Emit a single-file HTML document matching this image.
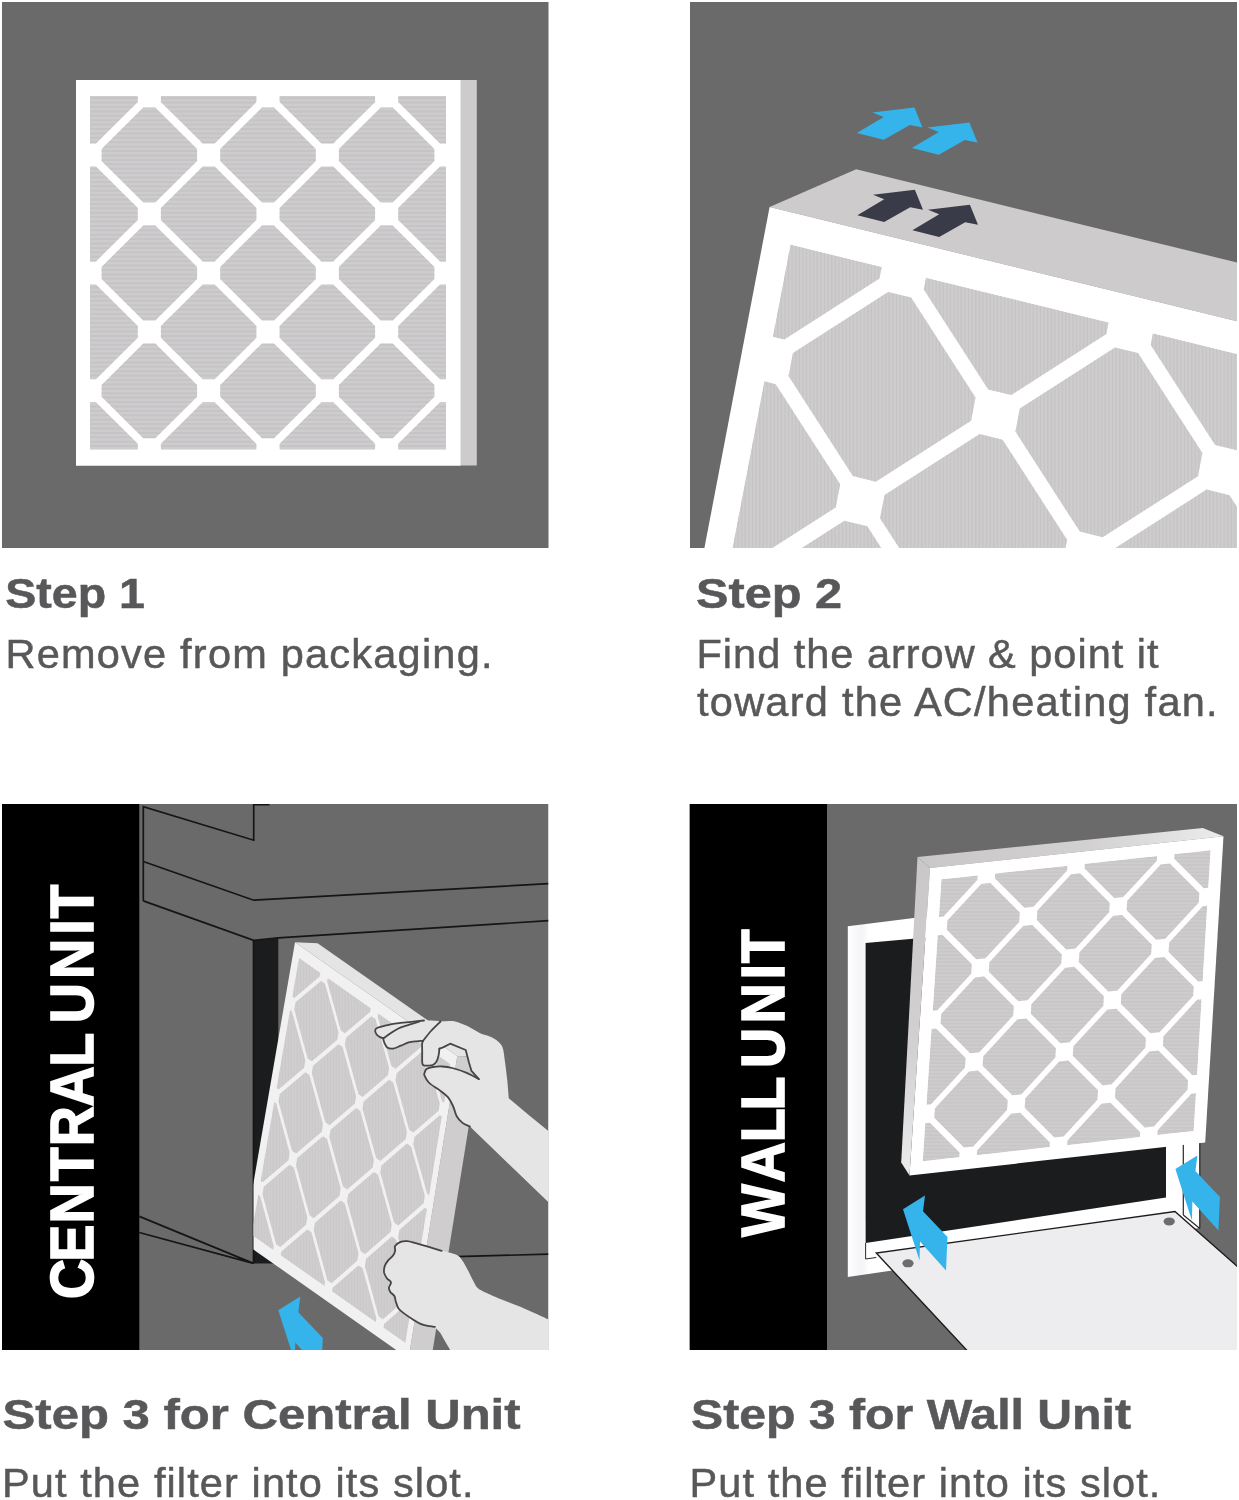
<!DOCTYPE html>
<html lang="en"><head><meta charset="utf-8"><title>Air filter installation steps</title>
<style>
html,body{margin:0;padding:0;background:#fff}
body{width:1239px;height:1500px;overflow:hidden}
svg{display:block;will-change:transform}
text{font-family:"Liberation Sans",sans-serif}
</style></head><body>
<svg width="1239" height="1500" viewBox="0 0 1239 1500">
<defs>
<clipPath id="p2"><rect x="690" y="2" width="547" height="546"/></clipPath>
<clipPath id="p3"><rect x="2" y="804" width="546.5" height="546"/></clipPath>
<clipPath id="p4"><rect x="689.5" y="804" width="547.5" height="546"/></clipPath>
<clipPath id="p3f"><polygon points="253.5,800 560,800 560,1360 253.5,1360"/></clipPath>
<linearGradient id="gfr" x1="0" y1="0" x2="1" y2="0"><stop offset="0" stop-color="#fff"/><stop offset="0.04" stop-color="#f4f4f7"/><stop offset="0.06" stop-color="#fff"/><stop offset="1" stop-color="#fff"/></linearGradient>
<linearGradient id="lside" gradientUnits="userSpaceOnUse" x1="0" y1="857" x2="0" y2="1175"><stop offset="0" stop-color="#c9c7c8"/><stop offset="0.6" stop-color="#d2d0d1"/><stop offset="1" stop-color="#ececec"/></linearGradient>
<linearGradient id="tside" gradientUnits="userSpaceOnUse" x1="917" y1="0" x2="1223" y2="0"><stop offset="0" stop-color="#c9c7c8"/><stop offset="0.55" stop-color="#d2d0d1"/><stop offset="1" stop-color="#ececec"/></linearGradient>
</defs>
<rect x="2" y="2" width="546.5" height="546" fill="#6a6a6a"/>
<rect x="460" y="80" width="16.8" height="385.5" fill="#cdcbcc"/>
<polygon points="76.0,80.0 460.5,80.0 460.5,465.8 76.0,465.8" fill="#ffffff"/>
<clipPath id="f1">
<path d="M96.0 143.5 L137.8 102.0 L137.8 96.0 L90.0 96.0 L90.0 143.5ZM96.0 261.4 L137.8 219.9 L137.8 208.0 L96.0 166.5 L90.0 166.5 L90.0 261.4ZM96.0 379.3 L137.8 337.8 L137.8 325.9 L96.0 284.4 L90.0 284.4 L90.0 379.3ZM137.8 443.8 L96.0 402.3 L90.0 402.3 L90.0 449.8 L137.8 449.8ZM101.6 160.9 L143.3 202.4 L155.3 202.4 L197.1 160.9 L197.1 149.0 L155.3 107.5 L143.3 107.5 L101.6 149.0ZM101.6 278.9 L143.3 320.4 L155.3 320.4 L197.1 278.9 L197.1 266.9 L155.3 225.4 L143.3 225.4 L101.6 266.9ZM101.6 396.8 L143.3 438.3 L155.3 438.3 L197.1 396.8 L197.1 384.9 L155.3 343.4 L143.3 343.4 L101.6 384.9ZM160.9 102.0 L202.7 143.5 L214.7 143.5 L256.4 102.0 L256.4 96.0 L160.9 96.0ZM160.9 219.9 L202.7 261.4 L214.7 261.4 L256.4 219.9 L256.4 208.0 L214.7 166.5 L202.7 166.5 L160.9 208.0ZM160.9 337.8 L202.7 379.3 L214.7 379.3 L256.4 337.8 L256.4 325.9 L214.7 284.4 L202.7 284.4 L160.9 325.9ZM256.4 443.8 L214.7 402.3 L202.7 402.3 L160.9 443.8 L160.9 449.8 L256.4 449.8ZM220.2 160.9 L262.0 202.4 L274.0 202.4 L315.8 160.9 L315.8 149.0 L274.0 107.5 L262.0 107.5 L220.2 149.0ZM220.2 278.9 L262.0 320.4 L274.0 320.4 L315.8 278.9 L315.8 266.9 L274.0 225.4 L262.0 225.4 L220.2 266.9ZM220.2 396.8 L262.0 438.3 L274.0 438.3 L315.8 396.8 L315.8 384.9 L274.0 343.4 L262.0 343.4 L220.2 384.9ZM279.6 102.0 L321.3 143.5 L333.3 143.5 L375.1 102.0 L375.1 96.0 L279.6 96.0ZM279.6 219.9 L321.3 261.4 L333.3 261.4 L375.1 219.9 L375.1 208.0 L333.3 166.5 L321.3 166.5 L279.6 208.0ZM279.6 337.8 L321.3 379.3 L333.3 379.3 L375.1 337.8 L375.1 325.9 L333.3 284.4 L321.3 284.4 L279.6 325.9ZM375.1 443.8 L333.3 402.3 L321.3 402.3 L279.6 443.8 L279.6 449.8 L375.1 449.8ZM338.9 160.9 L380.7 202.4 L392.7 202.4 L434.4 160.9 L434.4 149.0 L392.7 107.5 L380.7 107.5 L338.9 149.0ZM338.9 278.9 L380.7 320.4 L392.7 320.4 L434.4 278.9 L434.4 266.9 L392.7 225.4 L380.7 225.4 L338.9 266.9ZM338.9 396.8 L380.7 438.3 L392.7 438.3 L434.4 396.8 L434.4 384.9 L392.7 343.4 L380.7 343.4 L338.9 384.9ZM398.2 102.0 L440.0 143.5 L446.0 143.5 L446.0 96.0 L398.2 96.0ZM440.0 166.5 L398.2 208.0 L398.2 219.9 L440.0 261.4 L446.0 261.4 L446.0 166.5ZM440.0 284.4 L398.2 325.9 L398.2 337.8 L440.0 379.3 L446.0 379.3 L446.0 284.4ZM440.0 402.3 L398.2 443.8 L398.2 449.8 L446.0 449.8 L446.0 402.3Z"/>
</clipPath>
<g clip-path="url(#f1)">
<polygon points="90.0,96.0 446.0,96.0 446.0,449.8 90.0,449.8" fill="#cecccd"/>
<path d="M90.0 98.2L446.0 98.2M90.0 102.6L446.0 102.6M90.0 107.0L446.0 107.0M90.0 111.4L446.0 111.4M90.0 115.8L446.0 115.8M90.0 120.2L446.0 120.2M90.0 124.6L446.0 124.6M90.0 129.0L446.0 129.0M90.0 133.4L446.0 133.4M90.0 137.8L446.0 137.8M90.0 142.2L446.0 142.2M90.0 146.7L446.0 146.7M90.0 151.1L446.0 151.1M90.0 155.5L446.0 155.5M90.0 159.9L446.0 159.9M90.0 164.3L446.0 164.3M90.0 168.7L446.0 168.7M90.0 173.1L446.0 173.1M90.0 177.5L446.0 177.5M90.0 181.9L446.0 181.9M90.0 186.3L446.0 186.3M90.0 190.7L446.0 190.7M90.0 195.1L446.0 195.1M90.0 199.5L446.0 199.5M90.0 203.9L446.0 203.9M90.0 208.3L446.0 208.3M90.0 212.7L446.0 212.7M90.0 217.1L446.0 217.1M90.0 221.5L446.0 221.5M90.0 225.9L446.0 225.9M90.0 230.3L446.0 230.3M90.0 234.7L446.0 234.7M90.0 239.1L446.0 239.1M90.0 243.5L446.0 243.5M90.0 247.9L446.0 247.9M90.0 252.3L446.0 252.3M90.0 256.7L446.0 256.7M90.0 261.1L446.0 261.1M90.0 265.5L446.0 265.5M90.0 269.9L446.0 269.9M90.0 274.4L446.0 274.4M90.0 278.8L446.0 278.8M90.0 283.2L446.0 283.2M90.0 287.6L446.0 287.6M90.0 292.0L446.0 292.0M90.0 296.4L446.0 296.4M90.0 300.8L446.0 300.8M90.0 305.2L446.0 305.2M90.0 309.6L446.0 309.6M90.0 314.0L446.0 314.0M90.0 318.4L446.0 318.4M90.0 322.8L446.0 322.8M90.0 327.2L446.0 327.2M90.0 331.6L446.0 331.6M90.0 336.0L446.0 336.0M90.0 340.4L446.0 340.4M90.0 344.8L446.0 344.8M90.0 349.2L446.0 349.2M90.0 353.6L446.0 353.6M90.0 358.0L446.0 358.0M90.0 362.4L446.0 362.4M90.0 366.8L446.0 366.8M90.0 371.2L446.0 371.2M90.0 375.6L446.0 375.6M90.0 380.0L446.0 380.0M90.0 384.4L446.0 384.4M90.0 388.8L446.0 388.8M90.0 393.2L446.0 393.2M90.0 397.6L446.0 397.6M90.0 402.1L446.0 402.1M90.0 406.5L446.0 406.5M90.0 410.9L446.0 410.9M90.0 415.3L446.0 415.3M90.0 419.7L446.0 419.7M90.0 424.1L446.0 424.1M90.0 428.5L446.0 428.5M90.0 432.9L446.0 432.9M90.0 437.3L446.0 437.3M90.0 441.7L446.0 441.7M90.0 446.1L446.0 446.1" stroke="#bcbabb" stroke-opacity="0.40" stroke-width="2.00" fill="none"/>
</g>
<g clip-path="url(#p2)">
<rect x="690" y="2" width="547" height="546" fill="#6a6a6a"/>
<polygon points="769.6,207.0 856.2,169.3 1591.4,349.2 1504.8,386.9" fill="#cdcbcc"/>
<polygon points="769.6,207.0 1504.8,386.9 1361.6,1135.5 626.5,955.6" fill="#ffffff"/>
<clipPath id="f2">
<path d="M784.3 339.5 L879.5 278.5 L881.8 267.0 L790.4 244.6 L772.8 336.7ZM740.5 568.4 L835.8 507.4 L840.2 484.2 L775.7 384.2 L764.3 381.3 L729.1 565.6ZM696.8 797.2 L792.0 736.2 L796.5 713.1 L732.0 613.0 L720.5 610.2 L685.3 794.4ZM752.7 941.9 L688.2 841.8 L676.8 839.0 L659.2 931.1 L750.5 953.5ZM788.5 376.0 L852.9 476.1 L875.8 481.7 L971.1 420.7 L975.5 397.6 L911.1 297.5 L888.1 291.9 L792.9 352.9ZM744.7 604.8 L809.2 704.9 L832.1 710.5 L927.4 649.5 L931.8 626.4 L867.3 526.3 L844.4 520.7 L749.1 581.7ZM701.0 833.7 L765.4 933.8 L788.3 939.4 L883.6 878.4 L888.0 855.3 L823.6 755.2 L800.6 749.6 L705.4 810.6ZM923.8 289.4 L988.2 389.4 L1011.2 395.1 L1106.4 334.0 L1108.6 322.5 L926.0 277.8ZM880.0 518.2 L944.5 618.3 L967.4 623.9 L1062.7 562.9 L1067.1 539.8 L1002.6 439.7 L979.7 434.1 L884.5 495.1ZM836.3 747.0 L900.7 847.1 L923.7 852.7 L1018.9 791.7 L1023.3 768.6 L958.9 668.5 L936.0 662.9 L840.7 723.9ZM979.6 997.4 L915.1 897.3 L892.2 891.7 L796.9 952.7 L794.7 964.3 L977.4 1009.0ZM1015.4 431.5 L1079.8 531.6 L1102.7 537.2 L1198.0 476.2 L1202.4 453.1 L1138.0 353.0 L1115.0 347.4 L1019.8 408.4ZM971.6 660.4 L1036.1 760.5 L1059.0 766.1 L1154.2 705.1 L1158.7 681.9 L1094.2 581.8 L1071.3 576.2 L976.0 637.2ZM927.8 889.2 L992.3 989.3 L1015.2 994.9 L1110.5 933.9 L1114.9 910.8 L1050.4 810.7 L1027.5 805.1 L932.3 866.1ZM1150.7 344.9 L1215.1 445.0 L1238.1 450.6 L1333.3 389.6 L1335.5 378.0 L1152.9 333.3ZM1106.9 573.7 L1171.4 673.8 L1194.3 679.4 L1289.6 618.4 L1294.0 595.3 L1229.5 495.2 L1206.6 489.6 L1111.3 550.6ZM1063.2 802.5 L1127.6 902.6 L1150.6 908.2 L1245.8 847.2 L1250.2 824.1 L1185.8 724.0 L1162.9 718.4 L1067.6 779.4ZM1206.5 1053.0 L1142.0 952.9 L1119.1 947.3 L1023.8 1008.3 L1021.6 1019.8 L1204.3 1064.5ZM1242.2 487.0 L1306.7 587.1 L1329.6 592.7 L1424.9 531.7 L1429.3 508.6 L1364.8 408.5 L1341.9 402.9 L1246.7 463.9ZM1198.5 715.9 L1263.0 816.0 L1285.9 821.6 L1381.1 760.6 L1385.6 737.5 L1321.1 637.4 L1298.2 631.8 L1202.9 692.8ZM1154.7 944.7 L1219.2 1044.8 L1242.1 1050.4 L1337.4 989.4 L1341.8 966.3 L1277.3 866.2 L1254.4 860.6 L1159.2 921.6ZM1377.6 400.4 L1442.0 500.5 L1453.5 503.3 L1471.1 411.2 L1379.8 388.8ZM1433.5 545.1 L1338.2 606.1 L1333.8 629.2 L1398.3 729.3 L1409.7 732.1 L1445.0 547.9ZM1389.7 773.9 L1294.5 834.9 L1290.1 858.1 L1354.5 958.1 L1366.0 961.0 L1401.2 776.7ZM1346.0 1002.8 L1250.7 1063.8 L1248.5 1075.3 L1339.8 1097.7 L1357.5 1005.6Z"/>
</clipPath>
<g clip-path="url(#f2)">
<polygon points="790.4,244.6 1471.1,411.2 1339.8,1097.7 659.2,931.1" fill="#cecccd"/>
<path d="M626.5 207.0L626.5 1135.5M630.1 207.0L630.1 1135.5M633.7 207.0L633.7 1135.5M637.3 207.0L637.3 1135.5M640.9 207.0L640.9 1135.5M644.5 207.0L644.5 1135.5M648.1 207.0L648.1 1135.5M651.7 207.0L651.7 1135.5M655.3 207.0L655.3 1135.5M658.9 207.0L658.9 1135.5M662.5 207.0L662.5 1135.5M666.1 207.0L666.1 1135.5M669.7 207.0L669.7 1135.5M673.3 207.0L673.3 1135.5M676.9 207.0L676.9 1135.5M680.5 207.0L680.5 1135.5M684.1 207.0L684.1 1135.5M687.7 207.0L687.7 1135.5M691.3 207.0L691.3 1135.5M694.9 207.0L694.9 1135.5M698.5 207.0L698.5 1135.5M702.1 207.0L702.1 1135.5M705.7 207.0L705.7 1135.5M709.3 207.0L709.3 1135.5M712.9 207.0L712.9 1135.5M716.5 207.0L716.5 1135.5M720.1 207.0L720.1 1135.5M723.7 207.0L723.7 1135.5M727.3 207.0L727.3 1135.5M730.9 207.0L730.9 1135.5M734.5 207.0L734.5 1135.5M738.1 207.0L738.1 1135.5M741.7 207.0L741.7 1135.5M745.3 207.0L745.3 1135.5M748.9 207.0L748.9 1135.5M752.5 207.0L752.5 1135.5M756.1 207.0L756.1 1135.5M759.7 207.0L759.7 1135.5M763.3 207.0L763.3 1135.5M766.9 207.0L766.9 1135.5M770.5 207.0L770.5 1135.5M774.1 207.0L774.1 1135.5M777.7 207.0L777.7 1135.5M781.3 207.0L781.3 1135.5M784.9 207.0L784.9 1135.5M788.5 207.0L788.5 1135.5M792.1 207.0L792.1 1135.5M795.7 207.0L795.7 1135.5M799.3 207.0L799.3 1135.5M802.9 207.0L802.9 1135.5M806.5 207.0L806.5 1135.5M810.1 207.0L810.1 1135.5M813.7 207.0L813.7 1135.5M817.3 207.0L817.3 1135.5M820.9 207.0L820.9 1135.5M824.5 207.0L824.5 1135.5M828.1 207.0L828.1 1135.5M831.7 207.0L831.7 1135.5M835.3 207.0L835.3 1135.5M838.9 207.0L838.9 1135.5M842.5 207.0L842.5 1135.5M846.1 207.0L846.1 1135.5M849.7 207.0L849.7 1135.5M853.3 207.0L853.3 1135.5M856.9 207.0L856.9 1135.5M860.5 207.0L860.5 1135.5M864.1 207.0L864.1 1135.5M867.7 207.0L867.7 1135.5M871.3 207.0L871.3 1135.5M874.9 207.0L874.9 1135.5M878.5 207.0L878.5 1135.5M882.1 207.0L882.1 1135.5M885.7 207.0L885.7 1135.5M889.3 207.0L889.3 1135.5M892.9 207.0L892.9 1135.5M896.5 207.0L896.5 1135.5M900.1 207.0L900.1 1135.5M903.7 207.0L903.7 1135.5M907.3 207.0L907.3 1135.5M910.9 207.0L910.9 1135.5M914.5 207.0L914.5 1135.5M918.1 207.0L918.1 1135.5M921.7 207.0L921.7 1135.5M925.3 207.0L925.3 1135.5M928.9 207.0L928.9 1135.5M932.5 207.0L932.5 1135.5M936.1 207.0L936.1 1135.5M939.7 207.0L939.7 1135.5M943.3 207.0L943.3 1135.5M946.9 207.0L946.9 1135.5M950.5 207.0L950.5 1135.5M954.1 207.0L954.1 1135.5M957.7 207.0L957.7 1135.5M961.3 207.0L961.3 1135.5M964.9 207.0L964.9 1135.5M968.5 207.0L968.5 1135.5M972.1 207.0L972.1 1135.5M975.7 207.0L975.7 1135.5M979.3 207.0L979.3 1135.5M982.9 207.0L982.9 1135.5M986.5 207.0L986.5 1135.5M990.1 207.0L990.1 1135.5M993.7 207.0L993.7 1135.5M997.3 207.0L997.3 1135.5M1000.9 207.0L1000.9 1135.5M1004.5 207.0L1004.5 1135.5M1008.1 207.0L1008.1 1135.5M1011.7 207.0L1011.7 1135.5M1015.3 207.0L1015.3 1135.5M1018.9 207.0L1018.9 1135.5M1022.5 207.0L1022.5 1135.5M1026.1 207.0L1026.1 1135.5M1029.7 207.0L1029.7 1135.5M1033.3 207.0L1033.3 1135.5M1036.9 207.0L1036.9 1135.5M1040.5 207.0L1040.5 1135.5M1044.1 207.0L1044.1 1135.5M1047.7 207.0L1047.7 1135.5M1051.3 207.0L1051.3 1135.5M1054.9 207.0L1054.9 1135.5M1058.5 207.0L1058.5 1135.5M1062.1 207.0L1062.1 1135.5M1065.7 207.0L1065.7 1135.5M1069.3 207.0L1069.3 1135.5M1072.9 207.0L1072.9 1135.5M1076.5 207.0L1076.5 1135.5M1080.1 207.0L1080.1 1135.5M1083.7 207.0L1083.7 1135.5M1087.3 207.0L1087.3 1135.5M1090.9 207.0L1090.9 1135.5M1094.5 207.0L1094.5 1135.5M1098.1 207.0L1098.1 1135.5M1101.7 207.0L1101.7 1135.5M1105.3 207.0L1105.3 1135.5M1108.9 207.0L1108.9 1135.5M1112.5 207.0L1112.5 1135.5M1116.1 207.0L1116.1 1135.5M1119.7 207.0L1119.7 1135.5M1123.3 207.0L1123.3 1135.5M1126.9 207.0L1126.9 1135.5M1130.5 207.0L1130.5 1135.5M1134.1 207.0L1134.1 1135.5M1137.7 207.0L1137.7 1135.5M1141.3 207.0L1141.3 1135.5M1144.9 207.0L1144.9 1135.5M1148.5 207.0L1148.5 1135.5M1152.1 207.0L1152.1 1135.5M1155.7 207.0L1155.7 1135.5M1159.3 207.0L1159.3 1135.5M1162.9 207.0L1162.9 1135.5M1166.5 207.0L1166.5 1135.5M1170.1 207.0L1170.1 1135.5M1173.7 207.0L1173.7 1135.5M1177.3 207.0L1177.3 1135.5M1180.9 207.0L1180.9 1135.5M1184.5 207.0L1184.5 1135.5M1188.1 207.0L1188.1 1135.5M1191.7 207.0L1191.7 1135.5M1195.3 207.0L1195.3 1135.5M1198.9 207.0L1198.9 1135.5M1202.5 207.0L1202.5 1135.5M1206.1 207.0L1206.1 1135.5M1209.7 207.0L1209.7 1135.5M1213.3 207.0L1213.3 1135.5M1216.9 207.0L1216.9 1135.5M1220.5 207.0L1220.5 1135.5M1224.1 207.0L1224.1 1135.5M1227.7 207.0L1227.7 1135.5M1231.3 207.0L1231.3 1135.5M1234.9 207.0L1234.9 1135.5M1238.5 207.0L1238.5 1135.5M1242.1 207.0L1242.1 1135.5M1245.7 207.0L1245.7 1135.5M1249.3 207.0L1249.3 1135.5M1252.9 207.0L1252.9 1135.5M1256.5 207.0L1256.5 1135.5M1260.1 207.0L1260.1 1135.5M1263.7 207.0L1263.7 1135.5M1267.3 207.0L1267.3 1135.5M1270.9 207.0L1270.9 1135.5M1274.5 207.0L1274.5 1135.5M1278.1 207.0L1278.1 1135.5M1281.7 207.0L1281.7 1135.5M1285.3 207.0L1285.3 1135.5M1288.9 207.0L1288.9 1135.5M1292.5 207.0L1292.5 1135.5M1296.1 207.0L1296.1 1135.5M1299.7 207.0L1299.7 1135.5M1303.3 207.0L1303.3 1135.5M1306.9 207.0L1306.9 1135.5M1310.5 207.0L1310.5 1135.5M1314.1 207.0L1314.1 1135.5M1317.7 207.0L1317.7 1135.5M1321.3 207.0L1321.3 1135.5M1324.9 207.0L1324.9 1135.5M1328.5 207.0L1328.5 1135.5M1332.1 207.0L1332.1 1135.5M1335.7 207.0L1335.7 1135.5M1339.3 207.0L1339.3 1135.5M1342.9 207.0L1342.9 1135.5M1346.5 207.0L1346.5 1135.5M1350.1 207.0L1350.1 1135.5M1353.7 207.0L1353.7 1135.5M1357.3 207.0L1357.3 1135.5M1360.9 207.0L1360.9 1135.5M1364.5 207.0L1364.5 1135.5M1368.1 207.0L1368.1 1135.5M1371.7 207.0L1371.7 1135.5M1375.3 207.0L1375.3 1135.5M1378.9 207.0L1378.9 1135.5M1382.5 207.0L1382.5 1135.5M1386.1 207.0L1386.1 1135.5M1389.7 207.0L1389.7 1135.5M1393.3 207.0L1393.3 1135.5M1396.9 207.0L1396.9 1135.5M1400.5 207.0L1400.5 1135.5M1404.1 207.0L1404.1 1135.5M1407.7 207.0L1407.7 1135.5M1411.3 207.0L1411.3 1135.5M1414.9 207.0L1414.9 1135.5M1418.5 207.0L1418.5 1135.5M1422.1 207.0L1422.1 1135.5M1425.7 207.0L1425.7 1135.5M1429.3 207.0L1429.3 1135.5M1432.9 207.0L1432.9 1135.5M1436.5 207.0L1436.5 1135.5M1440.1 207.0L1440.1 1135.5M1443.7 207.0L1443.7 1135.5M1447.3 207.0L1447.3 1135.5M1450.9 207.0L1450.9 1135.5M1454.5 207.0L1454.5 1135.5M1458.1 207.0L1458.1 1135.5M1461.7 207.0L1461.7 1135.5M1465.3 207.0L1465.3 1135.5M1468.9 207.0L1468.9 1135.5M1472.5 207.0L1472.5 1135.5M1476.1 207.0L1476.1 1135.5M1479.7 207.0L1479.7 1135.5M1483.3 207.0L1483.3 1135.5M1486.9 207.0L1486.9 1135.5M1490.5 207.0L1490.5 1135.5M1494.1 207.0L1494.1 1135.5M1497.7 207.0L1497.7 1135.5M1501.3 207.0L1501.3 1135.5" stroke="#bcbabb" stroke-opacity="0.45" stroke-width="1.20" fill="none"/>
</g>
<polygon points="856.9,132.9 883.8,139.8 909.8,125.0 922.5,127.5 914.4,107.5 872.5,112.5 883.8,116.9" fill="#35b4ec"/>
<polygon points="911.9,147.9 938.8,154.8 964.8,140.0 977.5,142.5 969.4,122.5 927.5,127.5 938.8,131.9" fill="#35b4ec"/>
<polygon points="857.4,215.2 884.2,222.1 910.2,207.3 923.0,209.8 914.9,189.8 873.0,194.8 884.2,199.2" fill="#3a3b48"/>
<polygon points="912.4,230.2 939.2,237.1 965.2,222.3 978.0,224.8 969.9,204.8 928.0,209.8 939.2,214.2" fill="#3a3b48"/>
</g>
<g>
<text x="5.3" y="608.2" font-size="42.5" font-weight="bold" fill="#58585a" textLength="139.7" lengthAdjust="spacingAndGlyphs" stroke="#58585a" stroke-width="0.50">Step 1</text>
<text x="5.5" y="668.0" font-size="41.5" font-weight="normal" fill="#58585a" textLength="487.0" lengthAdjust="spacing" stroke="#58585a" stroke-width="0.50">Remove from packaging.</text>
<text x="696.1" y="607.6" font-size="42.5" font-weight="bold" fill="#58585a" textLength="146.0" lengthAdjust="spacingAndGlyphs" stroke="#58585a" stroke-width="0.50">Step 2</text>
<text x="696.5" y="668.2" font-size="41.5" font-weight="normal" fill="#58585a" textLength="462.0" lengthAdjust="spacing" stroke="#58585a" stroke-width="0.50">Find the arrow &amp; point it</text>
<text x="697.0" y="715.6" font-size="41.5" font-weight="normal" fill="#58585a" textLength="520.6" lengthAdjust="spacing" stroke="#58585a" stroke-width="0.50">toward the AC/heating fan.</text>
<text x="2.6" y="1428.8" font-size="42.5" font-weight="bold" fill="#58585a" textLength="518.0" lengthAdjust="spacingAndGlyphs" stroke="#58585a" stroke-width="0.50">Step 3 for Central Unit</text>
<text x="2.0" y="1496.5" font-size="41.5" font-weight="normal" fill="#58585a" textLength="471.5" lengthAdjust="spacing" stroke="#58585a" stroke-width="0.50">Put the filter into its slot.</text>
<text x="691.0" y="1428.8" font-size="42.5" font-weight="bold" fill="#58585a" textLength="440.0" lengthAdjust="spacingAndGlyphs" stroke="#58585a" stroke-width="0.50">Step 3 for Wall Unit</text>
<text x="689.6" y="1496.5" font-size="41.5" font-weight="normal" fill="#58585a" textLength="470.7" lengthAdjust="spacing" stroke="#58585a" stroke-width="0.50">Put the filter into its slot.</text>
</g>
<g clip-path="url(#p3)">
<rect x="2" y="804" width="546.5" height="546" fill="#6a6a6a"/>
<rect x="2" y="804" width="137.3" height="546" fill="#000"/>
<polygon points="253.5,940.3 278.3,937.8 278.3,1263.4 253.5,1263.4" fill="#1b1c1e"/>
<path d="M143.3 900.9 L143.3 806.6 L253.7 840.2 L253.7 804.0" fill="none" stroke="#151515" stroke-width="1.7" stroke-linejoin="miter"/>
<path d="M143.3 861.5 L253.7 900.2 L548.5 883.7" fill="none" stroke="#151515" stroke-width="1.7" stroke-linejoin="miter"/>
<path d="M143.3 900.9 L253.7 940.3 L278.3 937.8 L548.5 920.7" fill="none" stroke="#151515" stroke-width="1.7" stroke-linejoin="miter"/>
<path d="M253.5 940.3 L253.5 1263.4" fill="none" stroke="#151515" stroke-width="1.7" stroke-linejoin="miter"/>
<path d="M139.3 1216.4 L253.4 1263.4 L139.3 1232.5" fill="none" stroke="#151515" stroke-width="1.7" stroke-linejoin="miter"/>
<path d="M430.0 1257.3 L548.5 1254.2" fill="none" stroke="#151515" stroke-width="1.7" stroke-linejoin="miter"/>
<path d="M253.7 804.6 L269.5 804.6" fill="none" stroke="#151515" stroke-width="1.7" stroke-linejoin="miter"/>
<g clip-path="url(#p3f)">
<polygon points="295.0,942.2 317.6,943.2 479.9,1056.9 457.3,1055.9" fill="#e4e4e4"/>
<polygon points="457.3,1055.9 479.9,1056.9 431.2,1359.7 408.6,1358.7" fill="#cfcdce"/>
<polygon points="295.0,942.2 457.3,1055.9 408.6,1358.7 243.2,1242.3" fill="#f1f1f1"/>
<clipPath id="f3">
<path d="M294.3 997.9 L319.7 976.5 L320.4 972.8 L298.9 957.8 L292.3 996.5ZM278.5 1089.5 L304.1 1067.8 L305.4 1060.5 L291.9 1011.5 L289.9 1010.1 L276.5 1088.1ZM262.6 1182.2 L288.4 1160.2 L289.6 1152.8 L276.1 1103.3 L274.1 1101.9 L260.5 1180.8ZM273.7 1246.2 L260.2 1196.3 L258.1 1194.8 L251.3 1234.6 L273.1 1250.0ZM294.3 1009.6 L307.7 1058.5 L311.8 1061.3 L337.3 1039.7 L338.5 1032.4 L325.0 983.7 L321.0 980.9 L295.5 1002.3ZM278.5 1101.4 L292.0 1150.8 L296.1 1153.6 L321.7 1131.7 L323.0 1124.3 L309.4 1075.1 L305.4 1072.3 L279.8 1094.0ZM262.5 1194.2 L276.1 1244.2 L280.2 1247.1 L306.0 1224.8 L307.3 1217.3 L293.7 1167.6 L289.6 1164.7 L263.8 1186.8ZM327.3 981.8 L340.8 1030.5 L344.8 1033.3 L370.2 1011.8 L370.8 1008.2 L327.9 978.1ZM311.8 1073.1 L325.3 1122.3 L329.4 1125.2 L354.9 1103.4 L356.1 1096.0 L342.5 1047.0 L338.5 1044.2 L313.0 1065.8ZM296.0 1165.6 L309.6 1215.3 L313.7 1218.2 L339.4 1196.1 L340.7 1188.6 L327.0 1139.1 L323.0 1136.2 L297.3 1158.1ZM325.0 1282.3 L311.4 1232.2 L307.3 1229.4 L281.4 1251.6 L280.8 1255.4 L324.4 1286.1ZM344.9 1045.1 L358.4 1094.1 L362.5 1096.9 L387.9 1075.2 L389.1 1067.9 L375.5 1019.1 L371.4 1016.2 L346.1 1037.7ZM329.4 1137.1 L343.0 1186.6 L347.1 1189.5 L372.7 1167.5 L373.9 1160.1 L360.2 1110.7 L356.1 1107.9 L330.6 1129.7ZM313.7 1230.2 L327.4 1280.3 L331.5 1283.2 L357.2 1260.8 L358.5 1253.3 L344.8 1203.5 L340.7 1200.6 L315.0 1222.7ZM377.8 1017.1 L391.4 1065.9 L395.5 1068.8 L420.7 1047.2 L421.3 1043.6 L378.4 1013.5ZM362.5 1108.7 L376.2 1158.1 L380.3 1160.9 L405.7 1139.0 L406.9 1131.7 L393.2 1082.5 L389.1 1079.7 L363.7 1101.4ZM347.1 1201.5 L360.8 1251.3 L364.9 1254.2 L390.5 1232.0 L391.8 1224.5 L378.0 1174.8 L373.9 1172.0 L348.3 1194.0ZM376.4 1318.5 L362.6 1268.3 L358.5 1265.4 L332.7 1287.7 L332.1 1291.5 L375.8 1322.3ZM395.5 1080.6 L409.2 1129.7 L413.3 1132.5 L438.6 1110.8 L439.8 1103.4 L426.0 1054.5 L422.0 1051.6 L396.7 1073.2ZM380.3 1172.8 L394.1 1222.5 L398.2 1225.4 L423.6 1203.3 L424.8 1195.8 L411.0 1146.4 L407.0 1143.5 L381.5 1165.4ZM364.9 1266.2 L378.7 1316.4 L382.9 1319.3 L408.5 1296.9 L409.7 1289.4 L395.9 1239.4 L391.8 1236.5 L366.2 1258.7ZM428.3 1052.5 L442.1 1101.4 L444.1 1102.8 L450.4 1063.9 L428.9 1048.9ZM439.8 1115.2 L414.5 1137.0 L413.3 1144.4 L427.2 1193.8 L429.2 1195.3 L441.9 1116.6ZM424.9 1207.8 L399.4 1229.9 L398.2 1237.4 L412.1 1287.3 L414.1 1288.8 L426.9 1209.2ZM409.8 1301.5 L384.1 1323.9 L383.5 1327.7 L405.4 1343.1 L411.8 1302.9Z"/>
</clipPath>
<g clip-path="url(#f3)">
<polygon points="298.9,957.8 450.4,1063.9 405.4,1343.1 251.3,1234.6" fill="#d0cecf"/>
<path d="M243.2 942.2L243.2 1358.7M246.2 942.2L246.2 1358.7M249.2 942.2L249.2 1358.7M252.2 942.2L252.2 1358.7M255.2 942.2L255.2 1358.7M258.2 942.2L258.2 1358.7M261.2 942.2L261.2 1358.7M264.2 942.2L264.2 1358.7M267.2 942.2L267.2 1358.7M270.2 942.2L270.2 1358.7M273.2 942.2L273.2 1358.7M276.2 942.2L276.2 1358.7M279.2 942.2L279.2 1358.7M282.2 942.2L282.2 1358.7M285.2 942.2L285.2 1358.7M288.2 942.2L288.2 1358.7M291.2 942.2L291.2 1358.7M294.2 942.2L294.2 1358.7M297.2 942.2L297.2 1358.7M300.2 942.2L300.2 1358.7M303.2 942.2L303.2 1358.7M306.2 942.2L306.2 1358.7M309.2 942.2L309.2 1358.7M312.2 942.2L312.2 1358.7M315.2 942.2L315.2 1358.7M318.2 942.2L318.2 1358.7M321.2 942.2L321.2 1358.7M324.2 942.2L324.2 1358.7M327.2 942.2L327.2 1358.7M330.2 942.2L330.2 1358.7M333.2 942.2L333.2 1358.7M336.2 942.2L336.2 1358.7M339.2 942.2L339.2 1358.7M342.2 942.2L342.2 1358.7M345.2 942.2L345.2 1358.7M348.2 942.2L348.2 1358.7M351.2 942.2L351.2 1358.7M354.2 942.2L354.2 1358.7M357.2 942.2L357.2 1358.7M360.2 942.2L360.2 1358.7M363.2 942.2L363.2 1358.7M366.2 942.2L366.2 1358.7M369.2 942.2L369.2 1358.7M372.2 942.2L372.2 1358.7M375.2 942.2L375.2 1358.7M378.2 942.2L378.2 1358.7M381.2 942.2L381.2 1358.7M384.2 942.2L384.2 1358.7M387.2 942.2L387.2 1358.7M390.2 942.2L390.2 1358.7M393.2 942.2L393.2 1358.7M396.2 942.2L396.2 1358.7M399.2 942.2L399.2 1358.7M402.2 942.2L402.2 1358.7M405.2 942.2L405.2 1358.7M408.2 942.2L408.2 1358.7M411.2 942.2L411.2 1358.7M414.2 942.2L414.2 1358.7M417.2 942.2L417.2 1358.7M420.2 942.2L420.2 1358.7M423.2 942.2L423.2 1358.7M426.2 942.2L426.2 1358.7M429.2 942.2L429.2 1358.7M432.2 942.2L432.2 1358.7M435.2 942.2L435.2 1358.7M438.2 942.2L438.2 1358.7M441.2 942.2L441.2 1358.7M444.2 942.2L444.2 1358.7M447.2 942.2L447.2 1358.7M450.2 942.2L450.2 1358.7M453.2 942.2L453.2 1358.7M456.2 942.2L456.2 1358.7" stroke="#bfbdbe" stroke-opacity="0.35" stroke-width="1.00" fill="none"/>
</g>
</g>
<polygon points="300.3,1296.6 278.3,1310.2 294.8,1361.6 295.3,1342.6 321.3,1371.6 322.8,1338.0 298.3,1312.2" fill="#35b4ec"/>
<path d="M383.0 1038.0C382.6 1037.9 381.6 1038.0 380.5 1037.4C379.4 1036.8 377.5 1035.7 376.6 1034.5C375.7 1033.3 375.0 1031.3 375.2 1030.2C375.4 1029.1 376.1 1028.5 377.6 1027.8C379.1 1027.1 381.2 1026.5 384.4 1025.8C387.6 1025.1 392.5 1024.0 397.0 1023.4C401.5 1022.8 407.0 1022.4 411.5 1021.9C416.0 1021.4 421.9 1020.7 424.0 1020.5C425.3 1020.5 429.3 1020.5 432.0 1020.6C434.7 1020.7 437.7 1021.2 440.0 1021.3C442.3 1021.4 443.5 1021.2 446.0 1021.2C448.5 1021.2 451.5 1020.7 455.1 1021.5C458.7 1022.3 463.3 1024.2 467.4 1026.1C471.5 1028.0 475.8 1031.2 479.6 1033.0C483.4 1034.8 487.3 1035.4 490.4 1036.8C493.5 1038.2 496.0 1039.6 498.0 1041.4C500.0 1043.2 501.5 1044.2 502.6 1047.5C503.8 1050.8 504.1 1055.9 504.9 1061.3C505.7 1066.7 506.5 1073.6 507.2 1079.8C507.9 1086.0 508.5 1095.1 508.8 1098.2L528.7 1115.0L550.0 1132.4L550.0 1203.8L469.9 1126.5C468.7 1125.9 464.7 1124.6 462.5 1122.9C460.3 1121.2 458.3 1119.1 456.7 1116.3C455.1 1113.5 454.5 1109.2 453.0 1106.0C451.5 1102.8 450.2 1099.9 447.9 1097.2C445.6 1094.5 442.3 1092.4 439.1 1089.9C435.9 1087.5 431.2 1085.0 428.8 1082.5C426.4 1080.0 425.1 1076.8 424.4 1075.2C423.7 1073.6 424.2 1073.8 424.6 1072.8C425.0 1071.8 426.2 1069.6 426.5 1069.0L424.1 1065.5C423.8 1065.1 422.6 1065.2 422.3 1063.1C422.0 1061.0 422.2 1056.2 422.2 1053.0C422.2 1049.8 422.0 1045.7 422.1 1043.7C422.2 1041.7 422.9 1041.3 423.1 1040.8C421.9 1040.9 418.7 1041.0 416.3 1041.3C413.9 1041.5 411.2 1041.6 408.6 1042.3C406.0 1043.0 403.4 1044.7 400.8 1045.7C398.2 1046.8 395.4 1048.3 393.1 1048.6C390.9 1048.9 388.8 1048.6 387.3 1047.6C385.9 1046.6 385.1 1044.4 384.4 1042.8C383.7 1041.2 383.2 1038.8 383.0 1038.0Z M439.4 1048.6 L442.5 1047.6 L450.2 1043.7 L465.7 1050.0 L469.1 1063.1 L471.5 1070.9 L478.8 1079.1L466.7 1072.8L452.2 1068.0L442.5 1066.5L436.5 1066.3Z" fill="#e5e5e5" fill-rule="evenodd"/>
<path d="M424.0 1020.5C421.9 1020.7 416.0 1021.4 411.5 1021.9C407.0 1022.4 401.5 1022.8 397.0 1023.4C392.5 1024.0 387.6 1025.1 384.4 1025.8C381.2 1026.5 379.1 1027.1 377.6 1027.8C376.1 1028.5 375.4 1029.1 375.2 1030.2C375.0 1031.3 375.7 1033.3 376.6 1034.5C377.5 1035.7 379.4 1036.8 380.5 1037.4C381.6 1038.0 382.6 1037.9 383.0 1038.0" fill="none" stroke="#454545" stroke-width="1.8" stroke-linecap="round" stroke-linejoin="round"/>
<path d="M383.4 1038.4C384.5 1037.6 387.8 1035.2 390.2 1033.6C392.6 1032.0 394.8 1030.2 397.9 1028.7C401.0 1027.2 405.1 1026.1 408.6 1024.9C412.2 1023.7 417.4 1022.2 419.2 1021.7" fill="none" stroke="#454545" stroke-width="1.8" stroke-linecap="round" stroke-linejoin="round"/>
<path d="M383.0 1038.0C383.2 1038.8 383.7 1041.2 384.4 1042.8C385.1 1044.4 385.9 1046.6 387.3 1047.6C388.8 1048.6 390.9 1048.9 393.1 1048.6C395.4 1048.3 398.2 1046.8 400.8 1045.7C403.4 1044.7 406.0 1043.0 408.6 1042.3C411.2 1041.6 413.9 1041.5 416.3 1041.3C418.7 1041.0 421.9 1040.9 423.0 1040.8" fill="none" stroke="#454545" stroke-width="1.8" stroke-linecap="round" stroke-linejoin="round"/>
<path d="M440.5 1021.5C438.9 1023.1 433.9 1027.8 431.0 1031.0C428.1 1034.2 424.4 1039.2 423.1 1040.8" fill="none" stroke="#454545" stroke-width="1.8" stroke-linecap="round" stroke-linejoin="round"/>
<path d="M423.1 1040.8C422.9 1041.3 422.2 1041.7 422.1 1043.7C422.0 1045.7 422.2 1049.8 422.2 1053.0C422.2 1056.2 422.0 1061.0 422.3 1063.1C422.6 1065.2 423.2 1065.1 424.1 1065.5C425.1 1065.9 426.6 1065.7 428.0 1065.6C429.4 1065.5 431.4 1065.6 432.8 1065.0C434.2 1064.4 435.2 1063.7 436.2 1062.1C437.2 1060.5 438.1 1057.7 438.6 1055.4C439.1 1053.2 439.3 1049.7 439.4 1048.6" fill="none" stroke="#454545" stroke-width="1.8" stroke-linecap="round" stroke-linejoin="round"/>
<path d="M478.8 1079.1C476.8 1078.0 471.1 1074.6 466.7 1072.8C462.3 1071.0 456.2 1069.0 452.2 1068.0C448.2 1067.0 445.7 1066.7 442.5 1066.5C439.3 1066.3 435.5 1066.6 432.8 1067.0C430.1 1067.4 427.9 1068.0 426.5 1069.0C425.1 1070.0 425.0 1071.8 424.6 1072.8C424.2 1073.8 423.7 1073.6 424.4 1075.2C425.1 1076.8 426.4 1080.0 428.8 1082.5C431.2 1085.0 435.9 1087.5 439.1 1089.9C442.3 1092.4 445.6 1094.5 447.9 1097.2C450.2 1099.9 451.5 1102.8 453.0 1106.0C454.5 1109.2 455.1 1113.5 456.7 1116.3C458.3 1119.1 460.3 1121.2 462.5 1122.9C464.7 1124.6 468.7 1125.9 469.9 1126.5" fill="none" stroke="#454545" stroke-width="1.8" stroke-linecap="round" stroke-linejoin="round"/>
<path d="M439.4 1048.6 L442.5 1047.6 L450.2 1043.7 L465.7 1050.0 L469.1 1063.1 L471.5 1070.9 L478.8 1079.1" fill="none" stroke="#454545" stroke-width="1.8" stroke-linecap="round" stroke-linejoin="round"/>
<path d="M434.9 1326.9C434.0 1326.8 431.7 1326.7 429.4 1326.2C427.1 1325.8 423.9 1325.3 421.2 1324.2C418.4 1323.1 415.6 1321.1 412.9 1319.4C410.1 1317.7 407.1 1315.7 404.7 1313.9C402.3 1312.1 400.0 1310.5 398.5 1308.4C397.0 1306.3 396.5 1303.6 395.8 1301.5C395.1 1299.4 395.3 1297.6 394.4 1296.0C393.5 1294.4 391.2 1293.3 390.3 1291.9C389.4 1290.5 388.8 1289.4 388.9 1287.8C389.0 1286.2 391.3 1283.9 391.0 1282.3C390.7 1280.7 388.0 1279.8 386.9 1278.2C385.8 1276.6 384.5 1274.8 384.1 1272.7C383.8 1270.7 384.1 1268.0 384.8 1265.9C385.5 1263.9 386.8 1262.1 388.2 1260.4C389.6 1258.7 391.9 1257.2 393.0 1255.6C394.1 1254.0 394.8 1252.4 395.1 1250.8C395.5 1249.2 394.2 1247.5 395.1 1246.0C396.0 1244.5 398.6 1242.7 400.6 1241.9C402.7 1241.1 404.9 1241.0 407.4 1241.2C409.9 1241.4 412.3 1242.3 415.7 1243.2C419.1 1244.1 423.7 1245.4 428.0 1246.7C432.3 1248.0 439.4 1250.1 441.7 1250.8C444.2 1251.5 453.4 1253.3 456.8 1254.9C460.2 1256.5 460.5 1257.9 462.3 1260.4C464.1 1262.9 466.0 1266.6 467.8 1270.0C469.6 1273.4 471.7 1278.0 473.3 1281.0C474.9 1284.0 475.6 1286.0 477.4 1287.8C479.2 1289.6 479.9 1289.8 484.3 1291.9C488.7 1294.0 496.9 1297.5 503.5 1300.2C510.1 1303.0 516.4 1305.1 524.1 1308.4C531.9 1311.7 545.7 1318.1 550.0 1320.0L550.0 1352.0L451.4 1352.0L445.9 1342.7L440.4 1333.1L434.9 1326.9Z" fill="#e5e5e5"/>
<path d="M434.9 1326.9C434.0 1326.8 431.7 1326.7 429.4 1326.2C427.1 1325.8 423.9 1325.3 421.2 1324.2C418.4 1323.1 415.6 1321.1 412.9 1319.4C410.1 1317.7 407.1 1315.7 404.7 1313.9C402.3 1312.1 400.0 1310.5 398.5 1308.4C397.0 1306.3 396.5 1303.6 395.8 1301.5C395.1 1299.4 395.3 1297.6 394.4 1296.0C393.5 1294.4 391.2 1293.3 390.3 1291.9C389.4 1290.5 388.8 1289.4 388.9 1287.8C389.0 1286.2 391.3 1283.9 391.0 1282.3C390.7 1280.7 388.0 1279.8 386.9 1278.2C385.8 1276.6 384.5 1274.8 384.1 1272.7C383.8 1270.7 384.1 1268.0 384.8 1265.9C385.5 1263.9 386.8 1262.1 388.2 1260.4C389.6 1258.7 391.9 1257.2 393.0 1255.6C394.1 1254.0 394.8 1252.4 395.1 1250.8C395.5 1249.2 394.2 1247.5 395.1 1246.0C396.0 1244.5 398.6 1242.7 400.6 1241.9C402.7 1241.1 404.9 1241.0 407.4 1241.2C409.9 1241.4 412.3 1242.3 415.7 1243.2C419.1 1244.1 423.7 1245.4 428.0 1246.7C432.3 1248.0 439.4 1250.1 441.7 1250.8" fill="none" stroke="#454545" stroke-width="1.8" stroke-linecap="round" stroke-linejoin="round"/>
<text transform="translate(93.4,1300.0) rotate(-90) scale(0.920,1)" x="1.1 41.5 83.1 129.1 167.0 210.3 253.5 283.7 300.8 349.0 397.0 414.7" y="0" font-size="60.5" font-weight="bold" fill="#fff" stroke="#fff" stroke-width="1.6">CENTRAL UNIT</text>
</g>
<g clip-path="url(#p4)">
<rect x="689.5" y="804" width="547.5" height="546" fill="#6a6a6a"/>
<rect x="689.5" y="804" width="137.5" height="546" fill="#000"/>
<polygon points="847.8,926.3 1199.5,882.5 1199.5,1228.0 888.8,1271.0 847.8,1276.9" fill="url(#gfr)"/>
<polygon points="865.6,943.0 1166.0,916.0 1166.0,1197.5 865.6,1243.0" fill="#1b1c1e"/>
<path d="M1183.3 1100 L1183.3 1215 M1199.8 1100 L1199.8 1228.5 M1183.3 1215 L1199.8 1228.5" stroke="#2a2a2a" stroke-width="1.2" fill="none"/>
<path d="M865.6 1243 L865.6 1259 L876.3 1257.5" stroke="#2a2a2a" stroke-width="1" fill="none"/>
<polygon points="876.3,1253.1 1175.0,1211.5 1237.0,1266.5 1237.0,1350.0 966.5,1350.0" fill="#ededf0"/>
<path d="M967.5 1351.0 L876.3 1253.1 L1175.0 1211.5 L1238.0 1267.0" fill="none" stroke="#1c1c1c" stroke-width="1.4"/>
<ellipse cx="908" cy="1263.3" rx="5.6" ry="4" fill="#6c6c6c"/>
<ellipse cx="1169.2" cy="1221.4" rx="5.6" ry="4" fill="#6c6c6c"/>
<polygon points="917.5,857.0 1202.8,828.0 1223.5,836.2 930.0,868.0" fill="url(#tside)"/>
<polygon points="917.5,857.0 930.0,868.0 909.5,1175.5 901.2,1162.5" fill="url(#lside)"/>
<polygon points="930.0,868.0 1223.5,836.2 1205.2,1142.5 909.5,1175.5" fill="#ffffff"/>
<clipPath id="f4">
<path d="M943.5 916.5 L977.3 880.1 L977.6 875.4 L941.4 879.3 L938.9 917.0ZM937.3 1010.2 L971.2 973.7 L971.8 964.2 L942.3 934.7 L937.7 935.2 L932.7 1010.7ZM931.0 1104.3 L965.0 1067.6 L965.6 1058.1 L936.0 1028.5 L931.5 1029.0 L926.4 1104.8ZM959.5 1152.4 L929.8 1122.7 L925.2 1123.2 L922.7 1161.3 L959.2 1157.2ZM946.8 929.8 L976.3 959.3 L985.4 958.3 L1019.2 922.0 L1019.8 912.5 L990.3 883.1 L981.2 884.1 L947.4 920.4ZM940.6 1023.6 L970.2 1053.2 L979.3 1052.2 L1013.2 1015.6 L1013.8 1006.2 L984.2 976.6 L975.1 977.6 L941.2 1014.1ZM934.3 1117.8 L964.0 1147.5 L973.2 1146.5 L1007.1 1109.7 L1007.7 1100.2 L978.1 1070.6 L969.0 1071.6 L935.0 1108.3ZM994.8 878.2 L1024.4 907.7 L1033.4 906.7 L1067.1 870.4 L1067.4 865.7 L995.1 873.5ZM988.8 971.7 L1018.3 1001.3 L1027.4 1000.3 L1061.2 963.8 L1061.8 954.4 L1032.3 924.9 L1023.2 925.9 L989.4 962.3ZM982.6 1065.7 L1012.3 1095.3 L1021.4 1094.3 L1055.3 1057.6 L1055.9 1048.2 L1026.3 1018.6 L1017.2 1019.6 L983.3 1056.2ZM1049.9 1142.4 L1020.2 1112.7 L1011.1 1113.7 L977.1 1150.5 L976.8 1155.2 L1049.6 1147.1ZM1036.8 920.0 L1066.3 949.5 L1075.4 948.5 L1109.1 912.2 L1109.7 902.7 L1080.1 873.3 L1071.1 874.3 L1037.4 910.6ZM1030.8 1013.7 L1060.4 1043.3 L1069.5 1042.3 L1103.3 1005.7 L1103.8 996.3 L1074.3 966.8 L1065.2 967.8 L1031.4 1004.2ZM1024.7 1107.8 L1054.4 1137.5 L1063.5 1136.4 L1097.4 1099.7 L1098.0 1090.2 L1068.3 1060.6 L1059.2 1061.6 L1025.4 1098.3ZM1084.6 868.5 L1114.2 897.9 L1123.2 896.9 L1156.8 860.7 L1157.1 856.0 L1084.9 863.8ZM1078.8 961.9 L1108.3 991.4 L1117.4 990.4 L1151.1 954.0 L1151.7 944.5 L1122.1 915.1 L1113.0 916.1 L1079.4 952.4ZM1072.8 1055.7 L1102.5 1085.3 L1111.6 1084.3 L1145.3 1047.7 L1145.9 1038.2 L1116.3 1008.7 L1107.2 1009.7 L1073.4 1046.2ZM1140.2 1132.3 L1110.5 1102.7 L1101.4 1103.7 L1067.5 1140.4 L1067.2 1145.2 L1139.9 1137.1ZM1126.6 910.3 L1156.1 939.7 L1165.2 938.7 L1198.8 902.4 L1199.3 893.0 L1169.8 863.6 L1160.7 864.6 L1127.2 900.8ZM1120.8 1003.8 L1150.4 1033.3 L1159.5 1032.3 L1193.1 995.9 L1193.7 986.4 L1164.1 956.9 L1155.0 957.9 L1121.4 994.3ZM1115.0 1097.8 L1144.7 1127.4 L1153.8 1126.4 L1187.5 1089.7 L1188.0 1080.2 L1158.4 1050.6 L1149.3 1051.6 L1115.6 1088.3ZM1174.3 858.8 L1203.8 888.2 L1208.3 887.7 L1210.6 850.2 L1174.5 854.1ZM1202.7 906.3 L1169.2 942.6 L1168.6 952.1 L1198.2 981.5 L1202.7 981.0 L1207.2 905.8ZM1197.1 999.8 L1163.5 1036.3 L1162.9 1045.8 L1192.5 1075.3 L1197.1 1074.8 L1201.6 999.3ZM1191.4 1093.7 L1157.7 1130.3 L1157.4 1135.1 L1193.7 1131.1 L1196.0 1093.2Z"/>
</clipPath>
<g clip-path="url(#f4)">
<polygon points="941.4,879.3 1210.6,850.2 1193.7,1131.1 922.7,1161.3" fill="#cecccd"/>
<path d="M909.5 836.2L1223.5 836.2M909.5 839.9L1223.5 839.9M909.5 843.5L1223.5 843.5M909.5 847.1L1223.5 847.1M909.5 850.7L1223.5 850.7M909.5 854.3L1223.5 854.3M909.5 857.9L1223.5 857.9M909.5 861.5L1223.5 861.5M909.5 865.1L1223.5 865.1M909.5 868.7L1223.5 868.7M909.5 872.3L1223.5 872.3M909.5 875.9L1223.5 875.9M909.5 879.5L1223.5 879.5M909.5 883.1L1223.5 883.1M909.5 886.7L1223.5 886.7M909.5 890.3L1223.5 890.3M909.5 893.9L1223.5 893.9M909.5 897.5L1223.5 897.5M909.5 901.1L1223.5 901.1M909.5 904.7L1223.5 904.7M909.5 908.3L1223.5 908.3M909.5 911.9L1223.5 911.9M909.5 915.5L1223.5 915.5M909.5 919.1L1223.5 919.1M909.5 922.7L1223.5 922.7M909.5 926.3L1223.5 926.3M909.5 929.9L1223.5 929.9M909.5 933.5L1223.5 933.5M909.5 937.1L1223.5 937.1M909.5 940.7L1223.5 940.7M909.5 944.3L1223.5 944.3M909.5 947.9L1223.5 947.9M909.5 951.5L1223.5 951.5M909.5 955.1L1223.5 955.1M909.5 958.7L1223.5 958.7M909.5 962.3L1223.5 962.3M909.5 965.9L1223.5 965.9M909.5 969.5L1223.5 969.5M909.5 973.1L1223.5 973.1M909.5 976.7L1223.5 976.7M909.5 980.3L1223.5 980.3M909.5 983.9L1223.5 983.9M909.5 987.5L1223.5 987.5M909.5 991.1L1223.5 991.1M909.5 994.7L1223.5 994.7M909.5 998.3L1223.5 998.3M909.5 1001.9L1223.5 1001.9M909.5 1005.5L1223.5 1005.5M909.5 1009.1L1223.5 1009.1M909.5 1012.7L1223.5 1012.7M909.5 1016.3L1223.5 1016.3M909.5 1019.9L1223.5 1019.9M909.5 1023.5L1223.5 1023.5M909.5 1027.1L1223.5 1027.1M909.5 1030.7L1223.5 1030.7M909.5 1034.3L1223.5 1034.3M909.5 1037.9L1223.5 1037.9M909.5 1041.5L1223.5 1041.5M909.5 1045.1L1223.5 1045.1M909.5 1048.7L1223.5 1048.7M909.5 1052.3L1223.5 1052.3M909.5 1055.9L1223.5 1055.9M909.5 1059.5L1223.5 1059.5M909.5 1063.1L1223.5 1063.1M909.5 1066.7L1223.5 1066.7M909.5 1070.2L1223.5 1070.2M909.5 1073.8L1223.5 1073.8M909.5 1077.4L1223.5 1077.4M909.5 1081.0L1223.5 1081.0M909.5 1084.6L1223.5 1084.6M909.5 1088.2L1223.5 1088.2M909.5 1091.8L1223.5 1091.8M909.5 1095.4L1223.5 1095.4M909.5 1099.0L1223.5 1099.0M909.5 1102.6L1223.5 1102.6M909.5 1106.2L1223.5 1106.2M909.5 1109.8L1223.5 1109.8M909.5 1113.4L1223.5 1113.4M909.5 1117.0L1223.5 1117.0M909.5 1120.6L1223.5 1120.6M909.5 1124.2L1223.5 1124.2M909.5 1127.8L1223.5 1127.8M909.5 1131.4L1223.5 1131.4M909.5 1135.0L1223.5 1135.0M909.5 1138.6L1223.5 1138.6M909.5 1142.2L1223.5 1142.2M909.5 1145.8L1223.5 1145.8M909.5 1149.4L1223.5 1149.4M909.5 1153.0L1223.5 1153.0M909.5 1156.6L1223.5 1156.6M909.5 1160.2L1223.5 1160.2M909.5 1163.8L1223.5 1163.8M909.5 1167.4L1223.5 1167.4M909.5 1171.0L1223.5 1171.0M909.5 1174.6L1223.5 1174.6" stroke="#bcbabb" stroke-opacity="0.30" stroke-width="1.60" fill="none"/>
</g>
<polygon points="925.0,1195.6 903.0,1209.2 919.5,1260.6 920.0,1241.6 946.0,1270.6 947.5,1237.0 923.0,1211.2" fill="#35b4ec"/>
<polygon points="1197.4,1155.5 1175.4,1169.1 1191.9,1220.5 1192.4,1201.5 1218.4,1230.5 1219.9,1196.9 1195.4,1171.1" fill="#35b4ec"/>
<text transform="translate(784.1,1240.0) rotate(-90) scale(0.920,1)" x="3.6 62.9 106.2 140.8 171.0 187.0 235.2 283.2 300.9" y="0" font-size="60.5" font-weight="bold" fill="#fff" stroke="#fff" stroke-width="1.6">WALL UNIT</text>
</g>
</svg>
</body></html>
